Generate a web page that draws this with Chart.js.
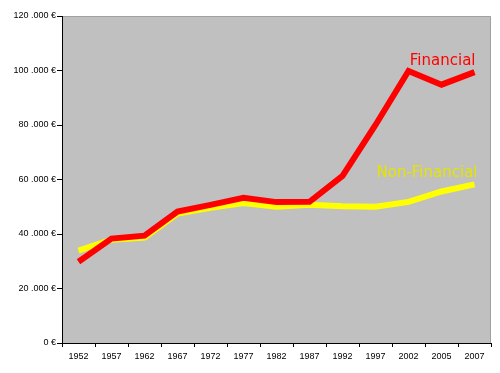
<!DOCTYPE html>
<html lang="en">
<head>
    <meta charset="UTF-8">
    <title>Financial vs Non-Financial</title>
    <script src="https://cdn.jsdelivr.net/npm/chart.js"></script>
    <style>
        html, body {
            margin: 0;
            padding: 0;
            background: #ffffff;
        }
        .chart-container {
            width: 500px;
            height: 373px;
        }
    </style>
</head>
<body>

<div class="chart-container">
    <canvas id="myChart" width="500" height="373"></canvas>
</div>

<script>
    const years = ["1952", "1957", "1962", "1967", "1972", "1977", "1982",
                   "1987", "1992", "1997", "2002", "2005", "2007"];
    const financial = [29800, 38300, 39400, 48200, 50700, 53300, 51700,
                       51800, 61300, 80000, 99800, 94800, 99400];
    const nonFinancial = [33900, 37900, 38700, 47500, 49600, 51400, 50000,
                          50700, 50200, 50000, 51800, 55600, 58200];
    const yTicks = [0, 20000, 40000, 60000, 80000, 100000, 120000];

    const tickFont = { family: 'Arial, "Liberation Sans", sans-serif', size: 9 };

    // grey plot area with a thin darker frame at top and right
    const plotBackground = {
        id: 'plotBackground',
        beforeDraw(chart) {
            const { ctx, chartArea: a } = chart;
            ctx.save();
            ctx.fillStyle = '#c0c0c0';
            ctx.fillRect(a.left, a.top, a.right - a.left, a.bottom - a.top);
            ctx.strokeStyle = '#a0a0a0';
            ctx.lineWidth = 1;
            ctx.beginPath();
            ctx.moveTo(a.left, a.top + 0.5);
            ctx.lineTo(a.right - 0.5, a.top + 0.5);
            ctx.lineTo(a.right - 0.5, a.bottom);
            ctx.stroke();
            ctx.restore();
        }
    };

    // series names written next to the end of each line
    const seriesLabels = {
        id: 'seriesLabels',
        afterDatasetsDraw(chart) {
            const { ctx } = chart;
            const x = chart.scales.x;
            const y = chart.scales.y;
            const last = years.length - 1;
            const xr = x.getPixelForValue(last);
            ctx.save();
            ctx.font = '15px "DejaVu Sans", sans-serif';
            ctx.textAlign = 'right';
            ctx.textBaseline = 'alphabetic';
            ctx.fillStyle = '#ff0000';
            ctx.fillText('Financial', xr + 1, y.getPixelForValue(financial[last]) - 7);
            ctx.fillStyle = '#e4e400';
            ctx.fillText('Non-Financial', xr + 3, y.getPixelForValue(nonFinancial[last]) - 7);
            ctx.restore();
        }
    };

    new Chart(document.getElementById('myChart').getContext('2d'), {
        type: 'line',
        data: {
            labels: years,
            datasets: [
                {
                    label: 'Financial',
                    data: financial,
                    borderColor: '#ff0000',
                    borderWidth: 6,
                    borderJoinStyle: 'miter',
                    pointRadius: 0,
                    tension: 0
                },
                {
                    label: 'Non-Financial',
                    data: nonFinancial,
                    borderColor: '#ffff00',
                    borderWidth: 6,
                    borderJoinStyle: 'miter',
                    pointRadius: 0,
                    tension: 0
                }
            ]
        },
        options: {
            responsive: false,
            animation: false,
            layout: { padding: { top: 16, right: 9, left: 0, bottom: 0 } },
            plugins: {
                legend: { display: false },
                tooltip: { enabled: false }
            },
            scales: {
                x: {
                    offset: true,
                    grid: {
                        offset: true,
                        drawOnChartArea: false,
                        drawTicks: true,
                        tickLength: 4,
                        color: '#000000'
                    },
                    border: { display: true, color: '#000000', width: 1 },
                    ticks: {
                        color: '#000000',
                        font: tickFont,
                        padding: 4,
                        maxRotation: 0,
                        autoSkip: false
                    },
                    afterFit(scale) { scale.height = 30; }
                },
                y: {
                    min: 0,
                    max: 120000,
                    afterBuildTicks(scale) {
                        scale.ticks = yTicks.map(v => ({ value: v }));
                    },
                    grid: {
                        drawOnChartArea: false,
                        drawTicks: true,
                        tickLength: 5,
                        color: '#000000'
                    },
                    border: { display: true, color: '#000000', width: 1 },
                    ticks: {
                        color: '#000000',
                        font: tickFont,
                        padding: 1,
                        callback(v) {
                            return v.toString().replace(/\B(?=(\d{3})+(?!\d))/g, ' .') + ' €';
                        }
                    },
                    afterFit(scale) { scale.width = 62; }
                }
            }
        },
        plugins: [plotBackground, seriesLabels]
    });
</script>

</body>
</html>
